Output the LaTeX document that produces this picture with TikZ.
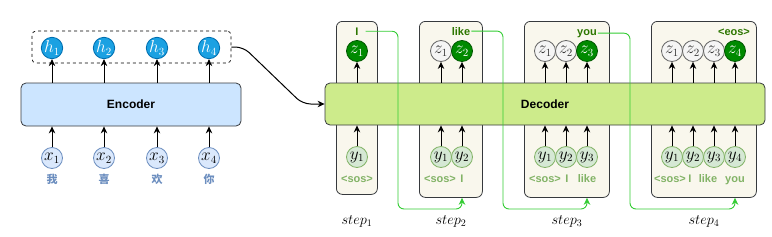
\documentclass[tikz,border=0pt]{standalone}
\usepackage[no-math]{fontspec}
\setmainfont{Liberation Sans}
\newfontfamily\cjk{Noto Sans CJK SC}
\usetikzlibrary{arrows.meta,calc}
\definecolor{encfill}{HTML}{CCE5FF}
\definecolor{boxdraw}{HTML}{36393D}
\definecolor{hfill}{HTML}{1BA1E2}
\definecolor{hdraw}{HTML}{006EAF}
\definecolor{xfill}{HTML}{DAE8FC}
\definecolor{xdraw}{HTML}{6C8EBF}
\definecolor{cjkcol}{HTML}{6C8EBF}
\definecolor{decfill}{HTML}{CDEB8B}
\definecolor{stepfill}{HTML}{F9F7ED}
\definecolor{zdfill}{HTML}{008A00}
\definecolor{zddraw}{HTML}{005700}
\definecolor{zlfill}{HTML}{F5F5F5}
\definecolor{zldraw}{HTML}{666666}
\definecolor{yfill}{HTML}{D5E8D4}
\definecolor{ydraw}{HTML}{82B366}
\definecolor{lblgreen}{HTML}{82B366}
\definecolor{topgreen}{HTML}{2D7600}
\definecolor{gline}{HTML}{33CC33}
\begin{document}
\begin{tikzpicture}[x=1pt,y=-1pt,
  circ/.style={circle, inner sep=0pt, minimum size=21pt, line width=0.8pt, font=\fontsize{16}{18}\selectfont},
  hnode/.style={circ, fill=hfill, draw=hdraw, text=white},
  xnode/.style={circ, fill=xfill, draw=xdraw},
  zdark/.style={circ, fill=zdfill, draw=zddraw, text=white},
  zlight/.style={circ, fill=zlfill, draw=zldraw, text=black!80},
  ynode/.style={circ, fill=yfill, draw=ydraw},
  botlbl/.style={font=\bfseries\fontsize{11}{12}\selectfont, text=lblgreen, inner sep=1pt, anchor=base},
  toplbl/.style={font=\bfseries\fontsize{11}{12}\selectfont, text=topgreen, inner sep=1pt, anchor=base},
  cjklbl/.style={font=\cjk\bfseries\fontsize{11}{12}\selectfont, text=cjkcol, inner sep=1pt},
  steplbl/.style={font=\fontsize{14}{16}\selectfont, inner sep=1pt},
  bigbox/.style={draw=boxdraw, rounded corners=5pt, line width=0.8pt, inner sep=0pt, font=\bfseries\fontsize{12}{14}\selectfont},
  stepbox/.style={draw=boxdraw, fill=stepfill, rounded corners=6pt, line width=0.8pt, inner sep=0pt, anchor=north west},
  arr/.style={-{Stealth[length=7pt,width=6.5pt]}, line width=1pt},
  gconn/.style={draw=gline, line width=0.9pt, rounded corners=6pt, -{Stealth[length=7pt,width=6.5pt]}}
]
\useasboundingbox (0,0) rectangle (772,236);

% ---------- Encoder side ----------
\node[draw=black, dashed, rounded corners=4pt, line width=0.7pt, minimum width=199pt, minimum height=32pt, inner sep=0pt] (dash) at (131.5,47) {};
\node[bigbox, fill=encfill, minimum width=220pt, minimum height=43pt] (enc) at (131,104.5) {Encoder};
\foreach \i/\x/\c in {1/52/我,2/104/喜,3/157/欢,4/209/你}{
  \node[hnode] (h\i) at (\x,48) {$h_{\i}$};
  \node[xnode] (x\i) at (\x,158) {$x_{\i}$};
  \node[cjklbl] (c\i) at (\x,179) {\c};
  \draw[arr] (h\i |- enc.north) -- (h\i);
  \draw[arr] (x\i) -- (x\i |- enc.south);
}

% ---------- Step boxes ----------
\node[stepbox, minimum width=41pt, minimum height=173pt] (sb1) at (336,21) {};
\node[stepbox, minimum width=63pt, minimum height=176pt] (sb2) at (419,21) {};
\node[stepbox, minimum width=85pt, minimum height=176pt] (sb3) at (524,21) {};
\node[stepbox, minimum width=105pt, minimum height=176pt] (sb4) at (651,21) {};

% ---------- Decoder ----------
\node[bigbox, fill=decfill, minimum width=440pt, minimum height=42pt] (dec) at (545,104) {Decoder};

\draw[arr, rounded corners=8pt] (dash.east) -- ++(12,0) -- ($(dec.west)+(-22,0)$) -- (dec.west);

% step 1
\node[zdark] (s1z1) at (357,51) {$z_1$};
\node[ynode] (s1y1) at (357,157) {$y_1$};
% step 2
\node[zlight] (s2z1) at (441,51) {$z_1$};
\node[zdark]  (s2z2) at (462,51) {$z_2$};
\node[ynode] (s2y1) at (441,157) {$y_1$};
\node[ynode] (s2y2) at (462,157) {$y_2$};
% step 3
\node[zlight] (s3z1) at (545,51) {$z_1$};
\node[zlight] (s3z2) at (566,51) {$z_2$};
\node[zdark]  (s3z3) at (587,51) {$z_3$};
\node[ynode] (s3y1) at (545,157) {$y_1$};
\node[ynode] (s3y2) at (566,157) {$y_2$};
\node[ynode] (s3y3) at (587,157) {$y_3$};
% step 4
\node[zlight] (s4z1) at (672,51) {$z_1$};
\node[zlight] (s4z2) at (693,51) {$z_2$};
\node[zlight] (s4z3) at (714,51) {$z_3$};
\node[zdark]  (s4z4) at (735,51) {$z_4$};
\node[ynode] (s4y1) at (672,157) {$y_1$};
\node[ynode] (s4y2) at (693,157) {$y_2$};
\node[ynode] (s4y3) at (714,157) {$y_3$};
\node[ynode] (s4y4) at (735,157) {$y_4$};

\foreach \n in {s1z1,s2z1,s2z2,s3z1,s3z2,s3z3,s4z1,s4z2,s4z3,s4z4}{
  \draw[arr] (\n |- dec.north) -- (\n);
}
\foreach \n in {s1y1,s2y1,s2y2,s3y1,s3y2,s3y3,s4y1,s4y2,s4y3,s4y4}{
  \draw[arr] (\n) -- (\n |- dec.south);
}

% top labels
\node[toplbl] (t1) at (357,35) {I};
\node[toplbl] (t2) at (461,35) {like};
\node[toplbl] (t3) at (587,35) {you};
\node[toplbl] (t4) at (734,35) {<eos>};

% bottom labels
\node[botlbl] (b1s) at (357,182) {<sos>};
\node[botlbl] (b2s) at (440,182) {<sos>};
\node[botlbl] (b2I) at (462,182) {I};
\node[botlbl] (b3s) at (545,182) {<sos>};
\node[botlbl] (b3I) at (567,182) {I};
\node[botlbl] (b3l) at (587,182) {like};
\node[botlbl] (b4s) at (670,182) {<sos>};
\node[botlbl] (b4I) at (690,182) {I};
\node[botlbl] (b4l) at (708,182) {like};
\node[botlbl] (b4y) at (735,182) {you};

% step labels
\node[steplbl] (st1) at (357,221) {$step_1$};
\node[steplbl] (st2) at (451,221) {$step_2$};
\node[steplbl] (st3) at (567,221) {$step_3$};
\node[steplbl] (st4) at (704,221) {$step_4$};

% green feedback connectors
\coordinate (g1) at (398,209);
\coordinate (g2) at (503,209);
\coordinate (g3) at (630,209);
\draw[gconn] ([xshift=6pt]t1.east) -| (g1) -| (b2I |- sb2.south);
\draw[gconn] (t2.east) -| (g2) -| (b3l |- sb3.south);
\draw[gconn] (t3.east) -| (g3) -| (b4y |- sb4.south);
\end{tikzpicture}
\end{document}
